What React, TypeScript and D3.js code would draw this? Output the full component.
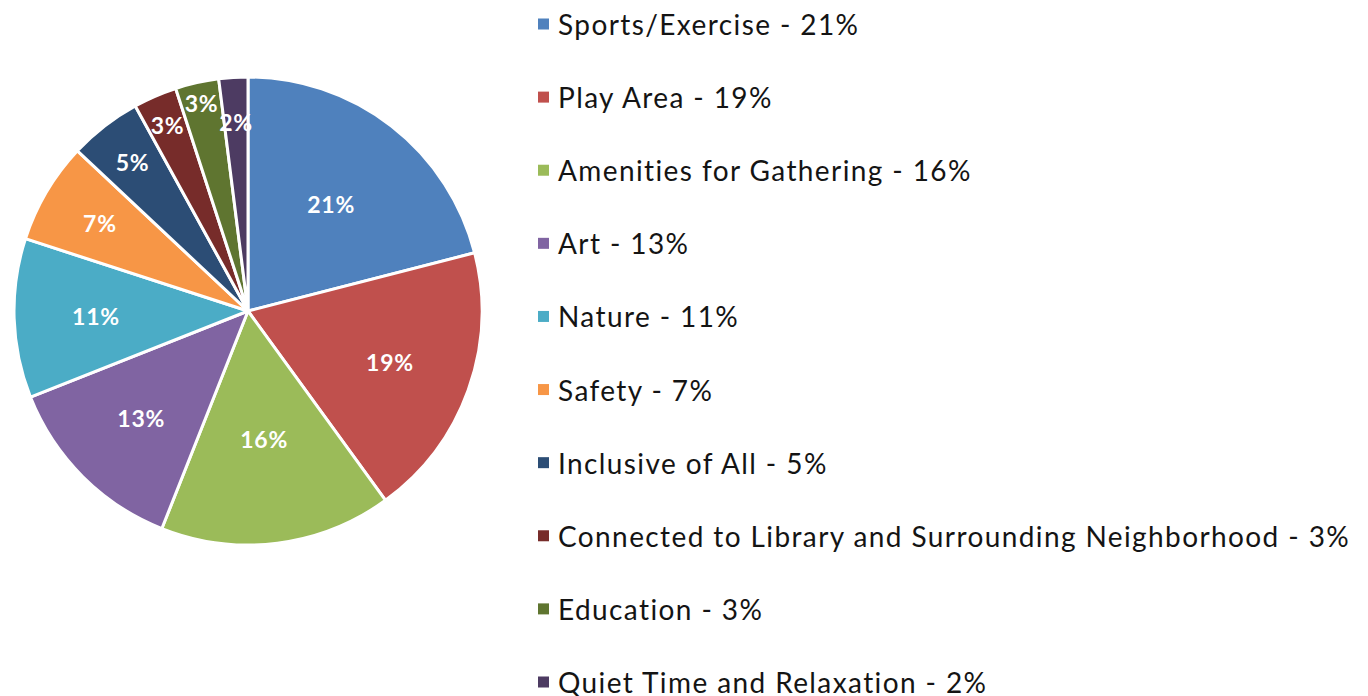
import { useEffect, useRef } from 'react'
import * as d3 from 'd3'

const categories = [
  'Sports/Exercise',
  'Play Area',
  'Amenities for Gathering',
  'Art',
  'Nature',
  'Safety',
  'Inclusive of All',
  'Connected to Library and Surrounding Neighborhood',
  'Education',
  'Quiet Time and Relaxation',
]
const percents = [21, 19, 16, 13, 11, 7, 5, 3, 3, 2]
const colors = [
  '#4F81BD',
  '#C0504D',
  '#9BBB59',
  '#8064A2',
  '#4BACC6',
  '#F79646',
  '#2C4D75',
  '#772C2A',
  '#5F7530',
  '#4D3B62',
]
// where each data label sits, as a share of the radius (best-fit style placement)
const labelRadius = [0.58, 0.645, 0.55, 0.645, 0.65, 0.735, 0.805, 0.865, 0.91, 0.81]

const width = 1368
const height = 696

const App = () => {
  const svgRef = useRef<SVGSVGElement>(null)

  useEffect(() => {
    const cx = 248
    const cy = 311
    const radius = 234

    const svgEl = d3.select(svgRef.current)
    svgEl.selectAll('*').remove()

    const rows = categories.map((c, i) => ({ name: c, value: percents[i], color: colors[i], lr: labelRadius[i] }))

    const pie = d3
      .pie<any>()
      .sort(null)
      .value((d) => d.value)
    const arcs = pie(rows)
    const arc = d3.arc<any>().innerRadius(0).outerRadius(radius)

    const g = svgEl.append('g').attr('transform', `translate(${cx},${cy})`)

    g.selectAll('path')
      .data(arcs)
      .join('path')
      .attr('d', arc)
      .attr('fill', (d) => d.data.color)
      .attr('stroke', '#fff')
      .attr('stroke-width', 3)
      .attr('stroke-linejoin', 'round')

    g.selectAll('text')
      .data(arcs)
      .join('text')
      .attr('transform', (d) => {
        const r = radius * d.data.lr
        const [x, y] = d3.arc<any>().innerRadius(r).outerRadius(r).centroid(d)
        return `translate(${x},${y})`
      })
      .attr('text-anchor', 'middle')
      .attr('dominant-baseline', 'central')
      .style('fill', '#fff')
      .style('font-family', 'Lato')
      .style('font-weight', '700')
      .style('font-size', '23px')
      .style('letter-spacing', '0.8px')
      .text((d) => `${d.data.value}%`)

    // legend
    const yLegend = d3.scalePoint<string>().domain(categories).range([24, 682])
    const legend = svgEl
      .append('g')
      .selectAll('g')
      .data(rows)
      .join('g')
      .attr('transform', (d) => `translate(538,${yLegend(d.name)})`)

    legend
      .append('rect')
      .attr('x', 0)
      .attr('y', -5.5)
      .attr('width', 11)
      .attr('height', 11)
      .attr('fill', (d) => d.color)

    legend
      .append('text')
      .attr('x', 20)
      .attr('dominant-baseline', 'central')
      .style('fill', '#141414')
      .style('font-family', 'Lato')
      .style('font-size', '28px')
      .style('letter-spacing', '1.4px')
      .text((d) => `${d.name} - ${d.value}%`)
  }, [])

  return (
    <svg
      ref={svgRef}
      width={width}
      height={height}
      style={{ position: 'absolute', left: 0, top: 0 }}
    />
  )
}

export default App
